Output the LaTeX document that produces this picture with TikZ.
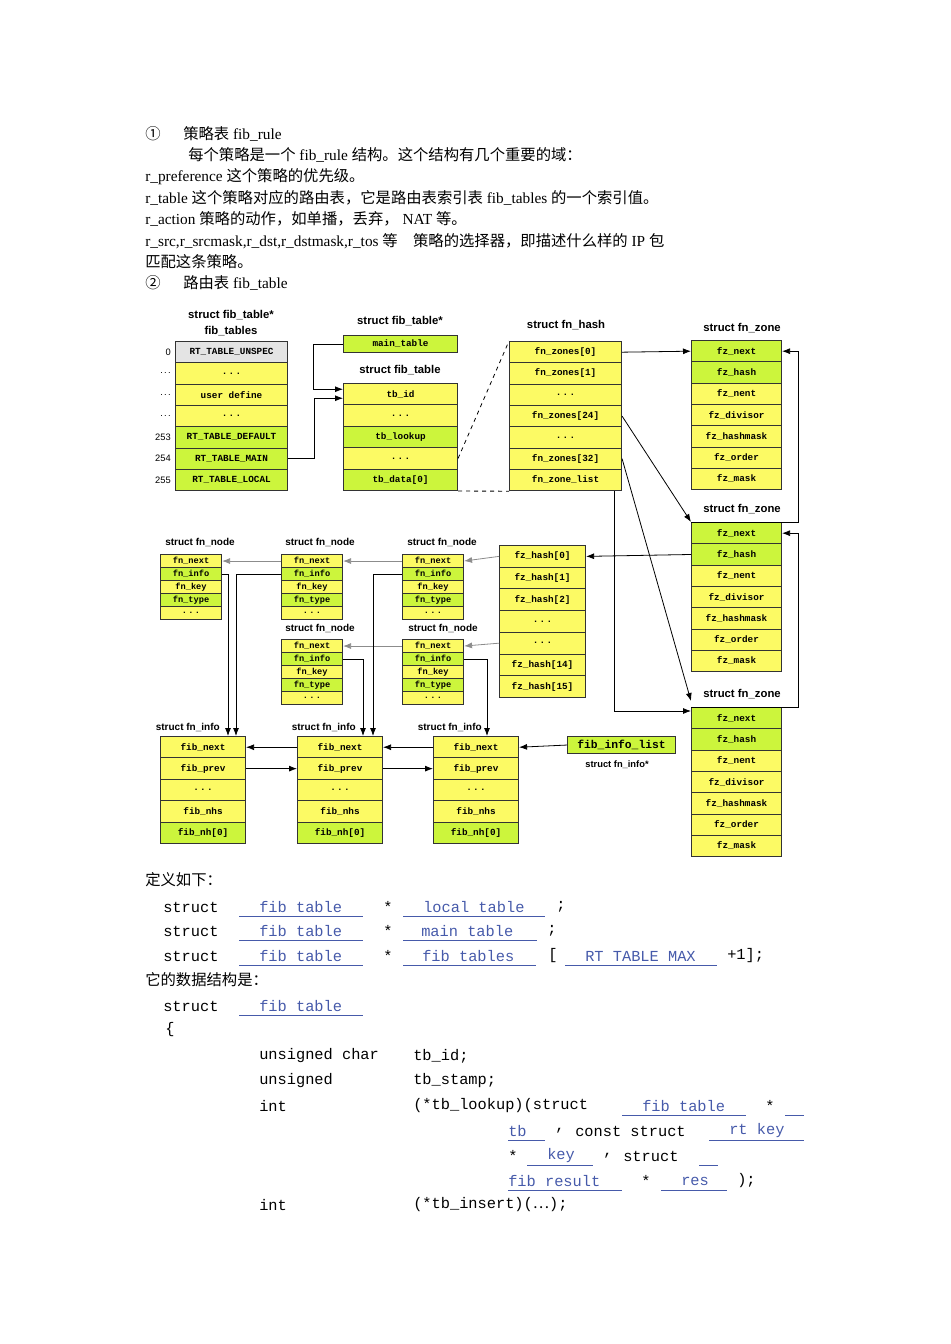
\documentclass[tikz,border=0pt]{standalone}
\usepackage{fontspec}
\setmainfont{Liberation Serif}
\setsansfont{Liberation Sans}
\setmonofont{Liberation Mono}
\newfontfamily\cjk{Noto Sans CJK SC}
\usetikzlibrary{arrows.meta,calc}
\definecolor{Y}{RGB}{252,250,100}
\definecolor{Gr}{RGB}{204,245,60}
\definecolor{Gy}{RGB}{228,228,228}
\definecolor{lnk}{RGB}{70,90,170}
\newcommand\C[1]{{\cjk #1}}
\newcommand\dd{.\kern1pt.\kern1pt.}
\tikzset{
  cell/.style={draw=black!80,line width=0.8pt,inner sep=0pt,font=\ttfamily\bfseries\fontsize{7}{8}\selectfont,anchor=north west},
  ttl/.style={font=\sffamily\bfseries\fontsize{8.5}{10}\selectfont,inner sep=0pt},
  txt/.style={font=\fontsize{11.5}{13}\selectfont,anchor=west,inner sep=0pt},
  code/.style={font=\ttfamily\fontsize{11.5}{13}\selectfont,anchor=west,inner sep=0pt},
  lk/.style={code,text=lnk},
  arr/.style={-{Latex[length=6pt,width=4.5pt]},line width=0.6pt},
  garr/.style={arr,draw=black!45},
  idx/.style={font=\sffamily\fontsize{7}{8}\selectfont,anchor=east,inner sep=0pt}
}
% name, x, y, width, rowh, list
\newcommand\rows[6]{%
  \foreach [count=\k] \lab/\col in {#6} {
    \node[cell,fill=\col,minimum width={#4*0.75pt},minimum height={#5*0.75pt}] (#1\k) at (#2,{#3+(\k-1)*#5}) {\lab};
  }}
\newcommand\ul[3]{\draw[lnk,line width=0.6pt] (#1,#3+9) -- (#2,#3+9);}
\begin{document}
\begin{tikzpicture}[x=0.75pt,y=-0.75pt]
\useasboundingbox (0,0) rectangle (950,1344);
% top text
\node[txt] (t1a) at (145,134) {\C{①}};
\node[txt] (t1b) at (183,134) {\C{策略表} fib\_rule};
\node[txt] (t2) at (188,155) {\C{每个策略是一个} fib\_rule \C{结构。这个结构有几个重要的域：}};
\node[txt] (t3) at (145,177) {r\_preference \C{这个策略的优先级。}};
\node[txt] (t4) at (145,198) {r\_table \C{这个策略对应的路由表，它是路由表索引表} fib\_tables \C{的一个索引值。}};
\node[txt] (t5) at (145,219) {r\_action \C{策略的动作，如单播，丢弃，} NAT \C{等。}};
\node[txt] (t6) at (145,241) {r\_src,r\_srcmask,r\_dst,r\_dstmask,r\_tos \C{等\quad 策略的选择器，即描述什么样的} IP \C{包}};
\node[txt] (t7) at (145,262) {\C{匹配这条策略。}};
\node[txt] (t8a) at (145,283) {\C{②}};
\node[txt] (t8b) at (183,283) {\C{路由表} fib\_table};

% fib_tables
\node[ttl] (ftt1) at (231,315) {struct fib\_table*};
\node[ttl] (ftt2) at (231,331) {fib\_tables};
\rows{ft}{175}{341}{112}{21.3}{RT\_TABLE\_UNSPEC/Gy,\dd/Y,user define/Y,\dd/Y,RT\_TABLE\_DEFAULT/Gr,RT\_TABLE\_MAIN/Gr,RT\_TABLE\_LOCAL/Gr}
\foreach \k/\t in {1/0,2/\dd,3/\dd,4/\dd,5/253,6/254,7/255}{\node[idx] at ($(ft\k.west)+(-4,0)$) {\t};}
% main_table
\node[ttl] (mtt) at (400,321) {struct fib\_table*};
\rows{mt}{343}{335}{114}{17}{main\_table/Gr}
\node[ttl] (fbt) at (400,370) {struct fib\_table};
\rows{fb}{343}{383}{114}{21.4}{tb\_id/Y,\dd/Y,tb\_lookup/Gr,\dd/Y,tb\_data[0]/Gr}
% fn_hash
\node[ttl] (fht) at (566,325) {struct fn\_hash};
\rows{fh}{509}{341}{112}{21.3}{fn\_zones[0]/Y,fn\_zones[1]/Y,\dd/Y,fn\_zones[24]/Y,\dd/Y,fn\_zones[32]/Y,fn\_zone\_list/Y}
% zones
\node[ttl] (zat) at (742,328) {struct fn\_zone};
\rows{za}{691}{340}{90}{21.3}{fz\_next/Gr,fz\_hash/Gr,fz\_nent/Y,fz\_divisor/Y,fz\_hashmask/Y,fz\_order/Y,fz\_mask/Y}
\node[ttl] (zbt) at (742,509) {struct fn\_zone};
\rows{zb}{691}{522}{90}{21.3}{fz\_next/Gr,fz\_hash/Gr,fz\_nent/Y,fz\_divisor/Y,fz\_hashmask/Y,fz\_order/Y,fz\_mask/Y}
\node[ttl] (zct) at (742,694) {struct fn\_zone};
\rows{zc}{691}{707}{90}{21.3}{fz\_next/Gr,fz\_hash/Gr,fz\_nent/Y,fz\_divisor/Y,fz\_hashmask/Y,fz\_order/Y,fz\_mask/Y}
% fz_hash
\rows{hh}{499}{545}{86}{21.7}{fz\_hash[0]/Y,fz\_hash[1]/Y,fz\_hash[2]/Y,\dd/Y,\dd/Y,fz\_hash[14]/Y,fz\_hash[15]/Y}
% fn_nodes
\tikzset{cell/.append style={font=\ttfamily\bfseries\fontsize{6.5}{7}\selectfont},
  ttls/.style={ttl,font=\sffamily\bfseries\fontsize{7.5}{9}\selectfont}}
\node[ttls] (nat) at (200,542) {struct fn\_node};
\node[ttls] (nbt) at (320,542) {struct fn\_node};
\node[ttls] (nct) at (442,542) {struct fn\_node};
\node[ttls] (ndt) at (320,628) {struct fn\_node};
\node[ttls] (net) at (443,628) {struct fn\_node};
\rows{na}{160}{554}{61}{13}{fn\_next/Y,fn\_info/Gr,fn\_key/Y,fn\_type/Gr,\dd/Y}
\rows{nb}{281}{554}{61}{13}{fn\_next/Y,fn\_info/Gr,fn\_key/Y,fn\_type/Gr,\dd/Y}
\rows{nc}{402}{554}{61}{13}{fn\_next/Y,fn\_info/Gr,fn\_key/Y,fn\_type/Gr,\dd/Y}
\rows{nd}{281}{639}{61}{13}{fn\_next/Y,fn\_info/Gr,fn\_key/Y,fn\_type/Gr,\dd/Y}
\rows{ne}{402}{639}{61}{13}{fn\_next/Y,fn\_info/Gr,fn\_key/Y,fn\_type/Gr,\dd/Y}
% fn_info
\tikzset{cell/.append style={font=\ttfamily\bfseries\fontsize{7}{8}\selectfont}}
\node[ttls,anchor=east] (iat) at (220,727) {struct fn\_info};
\node[ttls,anchor=east] (ibt) at (356,727) {struct fn\_info};
\node[ttls,anchor=east] (ict) at (482,727) {struct fn\_info};
\rows{ia}{160}{736}{85}{21.4}{fib\_next/Y,fib\_prev/Y,\dd/Y,fib\_nhs/Y,fib\_nh[0]/Gr}
\rows{ib}{297}{736}{85}{21.4}{fib\_next/Y,fib\_prev/Y,\dd/Y,fib\_nhs/Y,fib\_nh[0]/Gr}
\rows{ic}{433}{736}{85}{21.4}{fib\_next/Y,fib\_prev/Y,\dd/Y,fib\_nhs/Y,fib\_nh[0]/Gr}
\rows{fl}{567}{736}{108}{17}{\fontsize{8.5}{9}\selectfont fib\_info\_list/Gr}
\node[ttl,font=\sffamily\bfseries\fontsize{7}{8}\selectfont] (flt) at (617,765) {struct fn\_info*};

% connectors top
\draw[arr] (mt1.west) -- ++(-30,0) |- ($(fb1.west)+(0,-5)$);
\draw[arr] (ft6.east) -- ++(26,0) |- ($(fb1.west)+(0,4)$);
\draw[dashed,line width=0.6pt] (fb4.east) -- (fh1.north west);
\draw[dashed,line width=0.6pt] (fb5.south east) -- (fh7.south west);
\draw[arr] (fh1.east) -- (za1.west);
\draw[arr] (fh4.east) -- (zb1.north west);
\draw[arr] (fh6.east) -- ($(zc1.north west)+(0,-6)$);
\draw[arr] ($(fh7.south east)+(-8,0)$) |- ($(zc1.north west)+(0,4)$);
\draw[arr] (zb1.north west) -- ($(zb1.north east)+(16,0)$) |- (za1.east);
\draw[arr] (zc1.north west) -- ($(zc1.north east)+(16,0)$) |- (zb1.east);
\draw[arr] (zb2.west) -- (hh1.east);
% fn_node chains
\draw[garr] (hh1.west) -- (nc1.east);
\draw[garr] (nc1.west) -- (nb1.east);
\draw[garr] (nb1.west) -- (na1.east);
\draw[garr] (hh5.west) -- (ne1.east);
\draw[garr] (ne1.west) -- (nd1.east);
% fn_info pointers
\draw[arr] (na2.east) -| ($(ia1.north west)+(68,0)$);
\draw[arr] (nb2.west) -| ($(ia1.north west)+(76,0)$);
\draw[arr] (nc2.west) -| ($(ib1.north west)+(76,0)$);
\draw[arr] (nd2.east) -| ($(ib1.north west)+(66,0)$);
\draw[arr] (ne2.east) -| ($(ic1.north west)+(54,0)$);
% fib_info list
\draw[arr] (fl1.west) -- (ic1.east);
\draw[arr] (ic1.west) -- (ib1.east);
\draw[arr] (ib1.west) -- (ia1.east);
\draw[arr] (ia2.east) -- (ib2.west);
\draw[arr] (ib2.east) -- (ic2.west);

% code block
\node[txt] (d1) at (145,880) {\C{定义如下：}};
\foreach \yy/\nm/\ne/\nt in {907/local table/545/423,931/main table/537/421,956/fib tables/536/422}{
  \node[code] at (163,\yy) {struct};
  \node[lk] at (259,\yy) {fib table};
  \ul{239}{363}{\yy}
  \node[code] at (383,\yy) {*};
  \node[lk] at (\nt,\yy) {\nm};
  \ul{403}{\ne}{\yy}
}
\node[code] at (556,907) {;};
\node[code] at (547,931) {;};
\node[code] at (548,956) {[};
\node[lk] at (585,956) {RT TABLE MAX};
\ul{565}{717}{956}
\node[code] at (727,956) {+1];};
\node[txt] (d2) at (145,980) {\C{它的数据结构是：}};
\node[code] at (163,1006) {struct};
\node[lk] at (259,1006) {fib table};
\ul{239}{363}{1006}
\node[code] at (165,1030) {\{};
\node[code] at (259,1056) {unsigned char};
\node[code] at (413,1056) {tb\_id;};
\node[code] at (259,1081) {unsigned};
\node[code] at (413,1081) {tb\_stamp;};
\node[code] at (259,1106) {int};
\node[code] at (413,1106) {(*tb\_lookup)(struct};
\node[lk] at (642,1106) {fib table};
\ul{622}{746}{1106}
\node[code] at (765,1106) {*};
\ul{785}{804}{1106}
\node[lk] at (508,1131) {tb};
\ul{508}{545}{1131}
\node[code] at (555,1131) {,};
\node[code] at (575,1131) {const struct};
\node[lk] at (729,1131) {rt key};
\ul{709}{804}{1131}
\node[code] at (508,1156) {*};
\node[lk] at (547,1156) {key};
\ul{527}{593}{1156}
\node[code] at (603,1156) {,};
\node[code] at (623,1156) {struct};
\ul{699}{718}{1156}
\node[lk] at (508,1181) {fib result};
\ul{508}{622}{1181}
\node[code] at (641,1181) {*};
\node[lk] at (681,1181) {res};
\ul{661}{727}{1181}
\node[code] at (737,1181) {);};
\node[code] at (259,1205) {int};
\node[code] at (413,1205) {(*tb\_insert)(\C{…});};
\end{tikzpicture}
\end{document}
